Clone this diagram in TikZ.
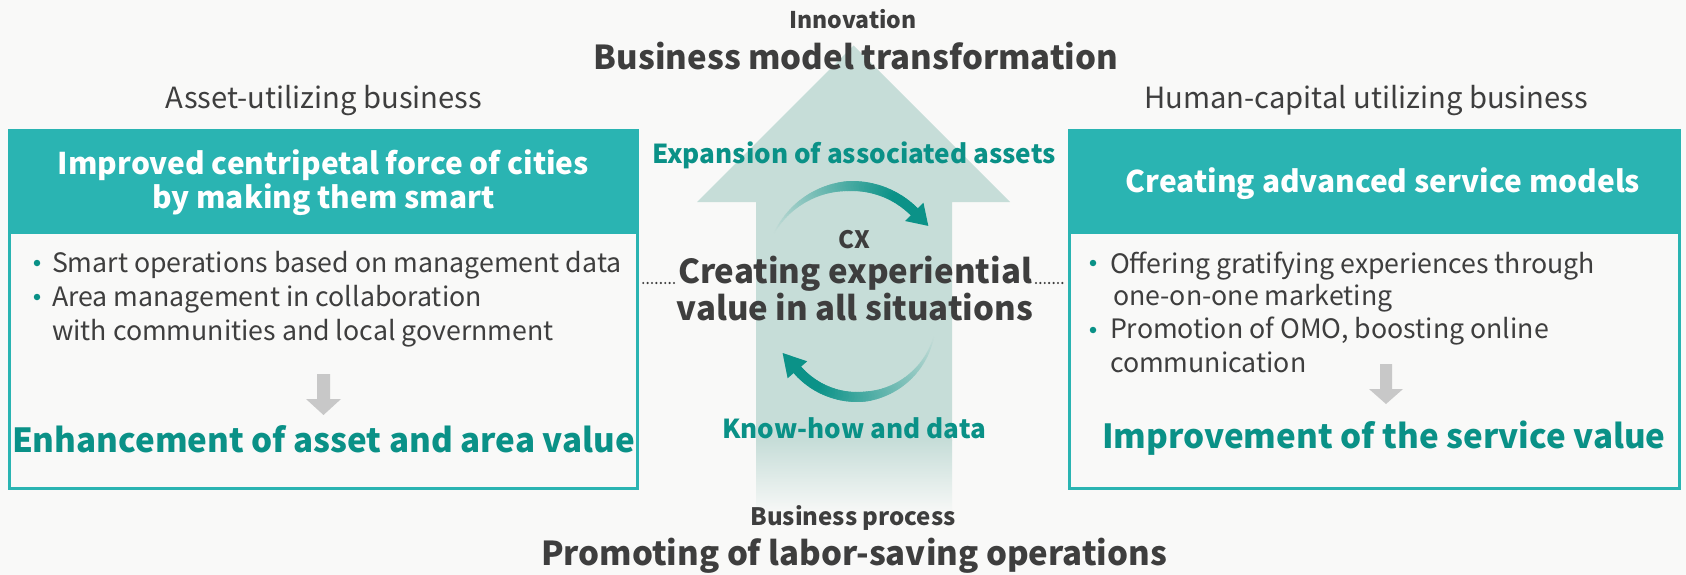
\documentclass[tikz,border=0pt]{standalone}
\usepackage{fontspec}
\setmainfont{Noto Sans CJK JP}
\usetikzlibrary{calc}
\definecolor{bgc}{RGB}{249,249,248}
\definecolor{hdr}{RGB}{42,180,178}
\definecolor{tealtxt}{RGB}{10,145,135}
\definecolor{dark}{RGB}{62,62,62}
\definecolor{arrowc}{RGB}{198,221,216}
\definecolor{grayarr}{RGB}{200,200,200}
\definecolor{arct}{RGB}{11,146,136}
\begin{document}
\begin{tikzpicture}[x=1pt,y=-1pt,
  every node/.style={inner sep=0pt, outer sep=0pt},
  txt/.style={anchor=base},
  innov/.style={txt, text=dark, font=\fontsize{23}{27}\selectfont\bfseries},
  cxs/.style={txt, text=dark, font=\fontsize{24}{28}\selectfont\bfseries},
  bproc/.style={txt, text=dark, font=\fontsize{24}{28}\selectfont\bfseries},
  bigdark/.style={txt, text=dark, font=\fontsize{33}{39}\selectfont\bfseries},
  cat/.style={txt, text=dark, font=\fontsize{29.2}{35}\selectfont},
  hdrtxt/.style={txt, text=white, font=\fontsize{29.9}{36}\selectfont\bfseries},
  bul/.style={anchor=base west, text=dark, font=\fontsize{26.7}{32}\selectfont},
  bdot/.style={circle, fill=tealtxt, minimum size=6.5pt},
  result/.style={txt, text=tealtxt, font=\fontsize{33.2}{40}\selectfont\bfseries},
  midteal/.style={txt, text=tealtxt, font=\fontsize{26.1}{32}\selectfont\bfseries},
  boxbody/.style={draw=hdr, line width=3pt, fill=bgc, anchor=north west},
  hdrbox/.style={fill=hdr, anchor=north west},
  dotl/.style={dark, line width=2.4pt, line cap=round, dash pattern=on 0pt off 4.4pt},
]
\useasboundingbox (0,0) rectangle (1686,575);
\fill[bgc] (0,0) rectangle (1686,575);

% big upward arrow
\fill[arrowc] (697,202) -- (853.5,45.5) -- (1010,202) -- (952,202) -- (952,440.5) -- (756,440.5) -- (756,202) -- cycle;
\shade[top color=arrowc, bottom color=bgc] (756,440) rectangle (952,515);

% boxes
\node[boxbody, minimum width=628pt, minimum height=358pt] (lbox) at (9.5,130.5) {};
\node[hdrbox, minimum width=631pt, minimum height=105pt] (lhdr) at (8,129) {};
\node[boxbody, minimum width=610pt, minimum height=358pt] (rbox) at (1069.5,130.5) {};
\node[hdrbox, minimum width=613pt, minimum height=105pt] (rhdr) at (1068,129) {};

% top texts
\node[innov] (innov) at (853,29) {Innovation};
\node[bigdark] (bmt) at (856,70) {Business model transformation};
\node[cat] (asset) at (324,109) {Asset-utilizing business};
\node[cat] (human) at (1366,109) {Human-capital utilizing business};

% left box content
\node[hdrtxt] (lh1) at (323.5,174) {Improved centripetal force of cities};
\node[hdrtxt] (lh2) at (323.5,208) {by making them smart};
\node[bdot] (lb1) at (37,263) {};
\node[bul] (lt1) at (52,272) {Smart operations based on management data};
\node[bdot] (lb2) at (37,297) {};
\node[bul] (lt2) at (52,306) {Area management in collaboration};
\node[bul] (lt3) at (52,340) {with communities and local government};
\fill[grayarr] (317,374) -- (330,374) -- (330,399) -- (341,399) -- (323.5,415) -- (306,399) -- (317,399) -- cycle;
\node[result] (enh) at (323.5,452) {Enhancement of asset and area value};

% right box content
\node[hdrtxt] (rh1) at (1383,192) {Creating advanced service models};
\node[bdot] (rb1) at (1093,263) {};
\node[bul] (rt1) at (1110,273) {Offering gratifying experiences through};
\node[bul] (rt2) at (1113,305) {one-on-one marketing};
\node[bdot] (rb2) at (1093,330) {};
\node[bul] (rt3) at (1110,338) {Promotion of OMO, boosting online};
\node[bul] (rt4) at (1110,372) {communication};
\fill[grayarr] (1380,364) -- (1392,364) -- (1392,389) -- (1403,389) -- (1386,404) -- (1369,389) -- (1380,389) -- cycle;
\node[result] (imp) at (1384,448) {Improvement of the service value};

% centre
\node[midteal] (exp) at (854,163) {Expansion of associated assets};
\foreach \i in {0,...,59}{
  \pgfmathsetmacro{\ta}{152-107*\i/60}
  \pgfmathsetmacro{\tb}{152-107*(\i+1)/60}
  \pgfmathsetmacro{\s}{(\i+0.5)/60}
  \pgfmathsetmacro{\w}{0.6+9.4*min(1,1.8*\s)}
  \pgfmathsetmacro{\p}{100*min(1,1.15*\s)}
  \draw[line width=\w pt, color=arct!\p!arrowc, line cap=round] ({852+88*cos(\ta)},{274-88*sin(\ta)}) -- ({852+88*cos(\tb)},{274-88*sin(\tb)});
}
\fill[arct] (928.3,225.9) -- (923.4,202.6) -- (905,221) -- cycle;
\foreach \i in {0,...,59}{
  \pgfmathsetmacro{\ta}{-14-125*\i/60}
  \pgfmathsetmacro{\tb}{-14-125*(\i+1)/60}
  \pgfmathsetmacro{\s}{(\i+0.5)/60}
  \pgfmathsetmacro{\w}{0.6+9.4*min(1,1.8*\s)}
  \pgfmathsetmacro{\p}{100*min(1,1.15*\s)}
  \draw[line width=\w pt, color=arct!\p!arrowc, line cap=round] ({857+79*cos(\ta)},{318-79*sin(\ta)}) -- ({857+79*cos(\tb)},{318-79*sin(\tb)});
}
\fill[arct] (782.6,353.0) -- (787.6,378.3) -- (807.2,361.3) -- cycle;

\node[cxs] (cx) at (854,248) {CX};
\node[bigdark] (ce1) at (855,283) {Creating experiential};
\node[bigdark] (ce2) at (855,320) {value in all situations};
\draw[dotl] ([xshift=-4pt]ce1.base west) -- ([xshift=4pt]lbox.east |- ce1.base west);
\draw[dotl] ([xshift=4pt]ce1.base east) -- ([xshift=-4pt]rbox.west |- ce1.base east);
\node[midteal] (know) at (854,438) {Know-how and data};
\node[bproc] (bp) at (853,525) {Business process};
\node[bigdark] (prom) at (854,565) {Promoting of labor-saving operations};
\end{tikzpicture}
\end{document}
